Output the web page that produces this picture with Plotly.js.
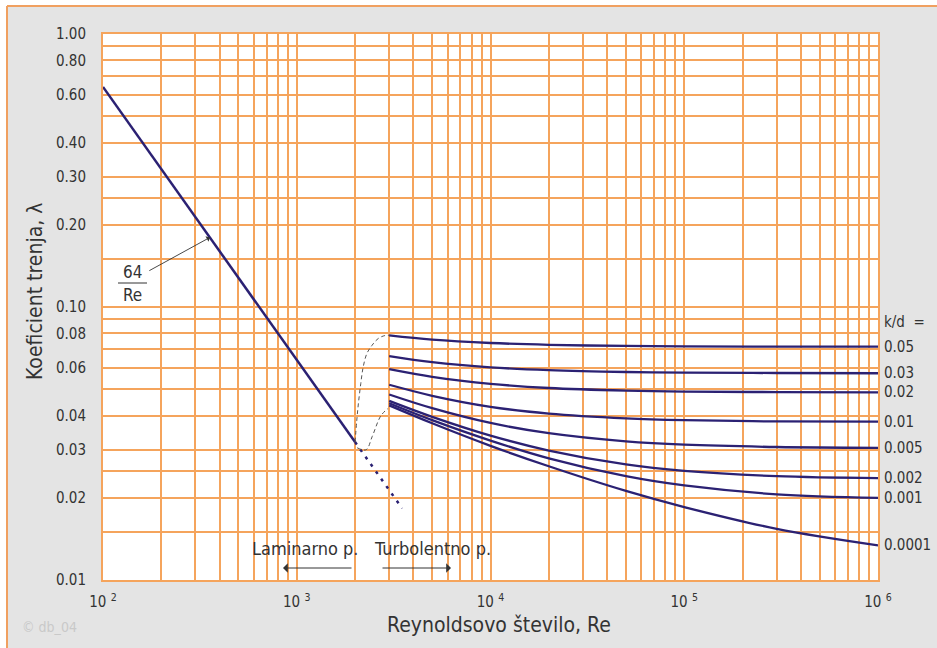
<!DOCTYPE html>
<html>
<head>
<meta charset="utf-8">
<script src="https://cdn.plot.ly/plotly-3.0.1.min.js"></script>
<style>html,body{margin:0;padding:0;background:#fff;}#chart{width:937px;height:648px;}</style>
</head>
<body>
<div id="chart"></div>
<script>
// ---- data ----
var laminarRe = [100, 2000];
var laminarF = [0.64, 0.032];
var laminarExtRe = [2000, 3500];
var laminarExtF = [0.032, 0.0183];

var trans1Re = [2000, 2040, 2080, 2140, 2200, 2300, 2440, 2630, 2850, 3000];
var trans1F = [0.032, 0.0383, 0.0442, 0.0524, 0.060, 0.0675, 0.0722, 0.0766, 0.0786, 0.0787];
var trans2Re = [2050, 2280, 2450, 2720, 2960];
var trans2F = [0.0305, 0.0300, 0.0335, 0.0400, 0.0425];

var turbRe = [3000, 5000, 10000, 20000, 50000, 100000, 300000, 1000000];
var kdLabels = ["0.05", "0.03", "0.02", "0.01", "0.005", "0.002", "0.001", "0.0001"];
var f_kd_005 = [0.0787, 0.0759, 0.0738, 0.0727, 0.0720, 0.0718, 0.0716, 0.0716];
var f_kd_003 = [0.0661, 0.0628, 0.0601, 0.0587, 0.0578, 0.0575, 0.0573, 0.0572];
var f_kd_002 = [0.0592, 0.0555, 0.0523, 0.0505, 0.0494, 0.0490, 0.0488, 0.0487];
var f_kd_001 = [0.0519, 0.0473, 0.0431, 0.0407, 0.0391, 0.0385, 0.0381, 0.0380];
var f_kd_0005 = [0.0478, 0.0426, 0.0376, 0.0345, 0.0322, 0.0313, 0.0307, 0.0305];
var f_kd_0002 = [0.0453, 0.0396, 0.0338, 0.0298, 0.0265, 0.0251, 0.0240, 0.0236];
var f_kd_0001 = [0.0444, 0.0385, 0.0324, 0.0279, 0.0240, 0.0222, 0.0206, 0.0200];
var f_kd_00001 = [0.0436, 0.0375, 0.0310, 0.0261, 0.0212, 0.0185, 0.0154, 0.0134];
var turbSeries = [f_kd_005, f_kd_003, f_kd_002, f_kd_001, f_kd_0005, f_kd_0002, f_kd_0001, f_kd_00001];

var xDecades = [100, 1000, 10000, 100000, 1000000];
var xDecadeText = ["10 <sup>2</sup>", "10 <sup>3</sup>", "10 <sup>4</sup>", "10 <sup>5</sup>", "10 <sup>6</sup>"];
var xGridMult = [2, 3, 4, 5, 6, 7, 8, 9];
var yLabelVals = [0.01, 0.02, 0.03, 0.04, 0.06, 0.08, 0.1, 0.2, 0.3, 0.4, 0.6, 0.8, 1.0];
var yLabelText = ["0.01", "0.02", "0.03", "0.04", "0.06", "0.08", "0.10", "0.20", "0.30", "0.40", "0.60", "0.80", "1.00"];
var yGridVals = [0.015, 0.025, 0.05, 0.07, 0.09, 0.15, 0.25, 0.5, 0.7, 0.9];

// ---- styles ----
var FONT = "'DejaVu Sans Condensed', 'DejaVu Sans', sans-serif";
var LINE = "#2b2173";
var GRID = "#f5a45c";
var GW = 2;
var TXT = "#333333";
var X_RANGE = [2, 6];
var Y_RANGE = [-2, 0];

var traces = [];
traces.push({x: laminarRe, y: laminarF, mode: "lines", line: {color: LINE, width: 2.5}});
traces.push({x: laminarExtRe, y: laminarExtF, mode: "lines", line: {color: LINE, width: 2.5, dash: "3px,6px"}});
traces.push({x: trans1Re, y: trans1F, mode: "lines", line: {color: "#555555", width: 1, dash: "4px,3px", shape: "spline"}});
traces.push({x: trans2Re, y: trans2F, mode: "lines", line: {color: "#555555", width: 1, dash: "4px,3px", shape: "spline"}});
turbSeries.forEach(function (s) {
  traces.push({x: turbRe, y: s, mode: "lines", line: {color: LINE, width: 2.3, shape: "spline"}});
});

// layout geometry helpers (pixel -> paper) for decorations
var L = 103, R = 878, T = 34, B = 580;
function px(x) { return (x - L) / (R - L); }
function py(y) { return (B - y) / (B - T); }
// grid positions snapped to whole pixels so 2px lines stay crisp
function logPaperX(v) { var f = (Math.log10(v) - X_RANGE[0]) / (X_RANGE[1] - X_RANGE[0]); return px(Math.round(L + f * (R - L))); }
function logPaperY(v) { var f = (Math.log10(v) - Y_RANGE[0]) / (Y_RANGE[1] - Y_RANGE[0]); return py(Math.round(B - f * (B - T))); }

var annotations = [];
function txt(x, y, text, size, extra) {
  var a = {xref: "paper", yref: "paper", x: x, y: y, text: text, showarrow: false,
    xanchor: "center", yanchor: "middle", font: {family: FONT, size: size, color: TXT}};
  for (var k in (extra || {})) a[k] = extra[k];
  annotations.push(a);
}
turbSeries.forEach(function (s, i) {
  annotations.push({xref: "paper", yref: "y", x: 1, y: Math.log10(s[s.length - 1]), xanchor: "left", yanchor: "middle", xshift: 4,
    text: kdLabels[i], showarrow: false, font: {family: FONT, size: 15, color: TXT}});
});
txt(1, py(322), "k/d&nbsp;&nbsp;=", 15, {xanchor: "left", xshift: 4});
txt(px(132), py(272), "64", 17);
txt(px(132), py(295), "Re", 17);
annotations.push({xref: "x", yref: "y", x: Math.log10(356), y: Math.log10(64 / 356), text: "", showarrow: true,
  ax: -62, ay: 34, arrowhead: 1, arrowsize: 1.2, arrowwidth: 0.9, arrowcolor: TXT});
txt(px(305), py(548), "Laminarno p.", 18);
txt(px(432), py(548), "Turbolentno p.", 18);
annotations.push({xref: "paper", yref: "paper", x: px(283), y: py(568), text: "", showarrow: true,
  ax: 70, ay: 0, arrowhead: 1, arrowsize: 1.6, arrowwidth: 1, arrowcolor: TXT});
annotations.push({xref: "paper", yref: "paper", x: px(451), y: py(568), text: "", showarrow: true,
  ax: -70, ay: 0, arrowhead: 1, arrowsize: 1.6, arrowwidth: 1, arrowcolor: TXT});
txt(px(20), py(627), "© db_04", 14, {xanchor: "left", font: {family: FONT, size: 14, color: "#c9c9c9"}});
// axis titles
txt(px(499), py(625), "Reynoldsovo število, Re", 21);
txt(px(35), py(292), "Koeficient trenja, λ", 21, {textangle: -90});

var shapes = [
  {type: "line", xref: "paper", yref: "paper", x0: px(118), x1: px(147), y0: py(283), y1: py(283), line: {color: TXT, width: 1}},
  {type: "rect", xref: "paper", yref: "paper", x0: px(0), x1: px(937), y0: py(0), y1: py(6), fillcolor: "#ffffff", line: {width: 0}},
  {type: "rect", xref: "paper", yref: "paper", x0: px(0), x1: px(7), y0: py(0), y1: py(648), fillcolor: "#ffffff", line: {width: 0}},
  {type: "line", xref: "paper", yref: "paper", x0: px(7), x1: px(937), y0: py(6), y1: py(6), line: {color: "#f0a060", width: 2}},
  {type: "line", xref: "paper", yref: "paper", x0: px(7), x1: px(7), y0: py(6), y1: py(648), line: {color: "#f0a060", width: 2}}
];
// unlabelled grid lines
xDecades.slice(0, -1).forEach(function (d) {
  xGridMult.forEach(function (m) {
    var gx = logPaperX(d * m);
    shapes.push({type: "line", layer: "below", xref: "paper", yref: "paper", x0: gx, x1: gx, y0: 0, y1: 1,
      line: {color: GRID, width: GW}});
  });
});
yGridVals.forEach(function (v) {
  var gy = logPaperY(v);
  shapes.push({type: "line", layer: "below", xref: "paper", yref: "paper", x0: 0, x1: 1, y0: gy, y1: gy,
    line: {color: GRID, width: GW}});
});

var layout = {
  width: 937, height: 648,
  margin: {l: L, r: 937 - R, t: T, b: 648 - B, pad: 0},
  paper_bgcolor: "#e4e4e4",
  plot_bgcolor: "#ffffff",
  showlegend: false,
  font: {family: FONT, size: 15, color: TXT},
  xaxis: {
    type: "log", range: X_RANGE,
    tickmode: "array", tickvals: xDecades, ticktext: xDecadeText,
    ticks: "outside", ticklen: 7, tickcolor: "rgba(0,0,0,0)",
    showgrid: true, gridcolor: GRID, gridwidth: GW,
    showline: true, linecolor: GRID, linewidth: 2, mirror: true,
    zeroline: false, fixedrange: true,
    tickfont: {family: FONT, size: 15, color: TXT}
  },
  yaxis: {
    type: "log", range: Y_RANGE,
    tickmode: "array", tickvals: yLabelVals, ticktext: yLabelText,
    ticks: "outside", ticklen: 12, tickcolor: "rgba(0,0,0,0)",
    showgrid: true, gridcolor: GRID, gridwidth: GW,
    showline: true, linecolor: GRID, linewidth: 2, mirror: true,
    zeroline: false, fixedrange: true,
    tickfont: {family: FONT, size: 15, color: TXT}
  },
  annotations: annotations,
  shapes: shapes
};

Plotly.newPlot("chart", traces, layout, {displayModeBar: false});
</script>
</body>
</html>
